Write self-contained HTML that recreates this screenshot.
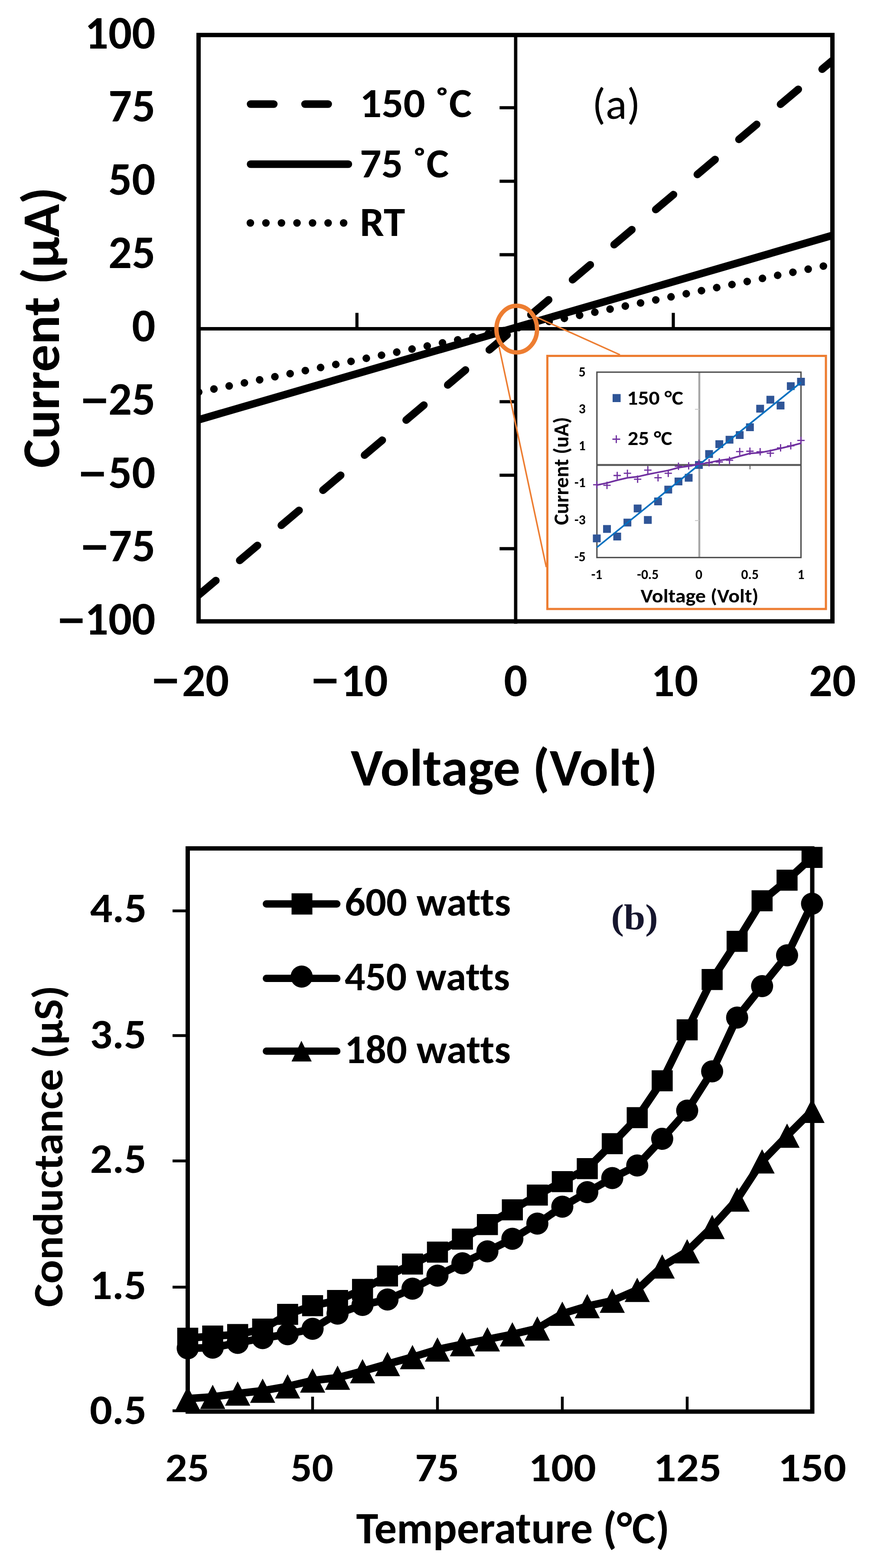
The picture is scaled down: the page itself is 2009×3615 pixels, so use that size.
<!DOCTYPE html>
<html><head><meta charset="utf-8"><title>Figure</title>
<style>
html,body{margin:0;padding:0;background:#fff;}
body{width:2009px;height:3615px;overflow:hidden;}
svg{display:block;}
text{font-variant-ligatures:none;font-feature-settings:"liga" 0,"clig" 0;}
</style></head>
<body>
<svg width="2009" height="3615" viewBox="0 0 2009 3615">
<rect width="2009" height="3615" fill="#fff"/>
<defs><clipPath id="clipA"><rect x="453" y="76" width="1472" height="1362"/></clipPath></defs>
<g clip-path="url(#clipA)" fill="none" stroke="#000" stroke-width="17.5" stroke-linecap="round">
<path d="M457,1372.9 L1921,138.7" stroke-dasharray="53.5 72"/>
<path d="M458,967.8 L1921,542.4" stroke-linecap="butt"/>
<path d="M458.3,904 L1921,609.1" stroke-dasharray="0.01 35.84"/>
</g>
<line x1="1189.4" y1="76" x2="1189.4" y2="1438" stroke="#000" stroke-width="7.7"/>
<line x1="453" y1="758" x2="1925" y2="758" stroke="#000" stroke-width="8"/>
<line x1="1152.3" y1="1264.99" x2="1189.4" y2="1264.99" stroke="#000" stroke-width="7.3"/>
<line x1="1152.3" y1="1095.56" x2="1189.4" y2="1095.56" stroke="#000" stroke-width="7.3"/>
<line x1="1152.3" y1="926.13" x2="1189.4" y2="926.13" stroke="#000" stroke-width="7.3"/>
<line x1="1152.3" y1="587.27" x2="1189.4" y2="587.27" stroke="#000" stroke-width="7.3"/>
<line x1="1152.3" y1="417.84" x2="1189.4" y2="417.84" stroke="#000" stroke-width="7.3"/>
<line x1="1152.3" y1="248.41" x2="1189.4" y2="248.41" stroke="#000" stroke-width="7.3"/>
<line x1="823.3" y1="721.3" x2="823.3" y2="758" stroke="#000" stroke-width="7.2"/>
<line x1="1553" y1="721.3" x2="1553" y2="758" stroke="#000" stroke-width="7.2"/>
<rect x="458" y="80.7" width="1462" height="1351.8" fill="none" stroke="#000" stroke-width="10"/>
<text x="358.5" y="111.5" font-size="107" font-weight="bold" text-anchor="end" font-family="Carlito, Lato, 'Liberation Sans', Arial, sans-serif" fill="#000" textLength="162.7" lengthAdjust="spacingAndGlyphs">100</text>
<text x="358.5" y="280.45" font-size="107" font-weight="bold" text-anchor="end" font-family="Carlito, Lato, 'Liberation Sans', Arial, sans-serif" fill="#000" textLength="108.47" lengthAdjust="spacingAndGlyphs">75</text>
<text x="358.5" y="449.4" font-size="107" font-weight="bold" text-anchor="end" font-family="Carlito, Lato, 'Liberation Sans', Arial, sans-serif" fill="#000" textLength="108.47" lengthAdjust="spacingAndGlyphs">50</text>
<text x="358.5" y="618.35" font-size="107" font-weight="bold" text-anchor="end" font-family="Carlito, Lato, 'Liberation Sans', Arial, sans-serif" fill="#000" textLength="108.47" lengthAdjust="spacingAndGlyphs">25</text>
<text x="358.5" y="787.3" font-size="107" font-weight="bold" text-anchor="end" font-family="Carlito, Lato, 'Liberation Sans', Arial, sans-serif" fill="#000" textLength="54.23" lengthAdjust="spacingAndGlyphs">0</text>
<text x="358.5" y="956.25" font-size="107" font-weight="bold" text-anchor="end" font-family="Carlito, Lato, 'Liberation Sans', Arial, sans-serif" fill="#000" textLength="108.47" lengthAdjust="spacingAndGlyphs">25</text>
<text x="185.18" y="957.75" font-size="107" font-weight="bold" font-family="Carlito, Lato, 'Liberation Sans', Arial, sans-serif" stroke="#000" stroke-width="1" textLength="66.16" lengthAdjust="spacingAndGlyphs">&#8722;</text>
<text x="358.5" y="1125.2" font-size="107" font-weight="bold" text-anchor="end" font-family="Carlito, Lato, 'Liberation Sans', Arial, sans-serif" fill="#000" textLength="108.47" lengthAdjust="spacingAndGlyphs">50</text>
<text x="180.18" y="1126.7" font-size="107" font-weight="bold" font-family="Carlito, Lato, 'Liberation Sans', Arial, sans-serif" stroke="#000" stroke-width="1" textLength="66.16" lengthAdjust="spacingAndGlyphs">&#8722;</text>
<text x="358.5" y="1294.15" font-size="107" font-weight="bold" text-anchor="end" font-family="Carlito, Lato, 'Liberation Sans', Arial, sans-serif" fill="#000" textLength="108.47" lengthAdjust="spacingAndGlyphs">75</text>
<text x="185.18" y="1295.65" font-size="107" font-weight="bold" font-family="Carlito, Lato, 'Liberation Sans', Arial, sans-serif" stroke="#000" stroke-width="1" textLength="66.16" lengthAdjust="spacingAndGlyphs">&#8722;</text>
<text x="358.5" y="1463.1" font-size="107" font-weight="bold" text-anchor="end" font-family="Carlito, Lato, 'Liberation Sans', Arial, sans-serif" fill="#000" textLength="162.7" lengthAdjust="spacingAndGlyphs">100</text>
<text x="131.75" y="1464.6" font-size="107" font-weight="bold" font-family="Carlito, Lato, 'Liberation Sans', Arial, sans-serif" stroke="#000" stroke-width="1" textLength="65.52" lengthAdjust="spacingAndGlyphs">&#8722;</text>
<text x="528.2" y="1604.5" font-size="107" font-weight="bold" text-anchor="end" font-family="Carlito, Lato, 'Liberation Sans', Arial, sans-serif" fill="#000" textLength="108.47" lengthAdjust="spacingAndGlyphs">20</text>
<text x="894.7" y="1604.5" font-size="107" font-weight="bold" text-anchor="end" font-family="Carlito, Lato, 'Liberation Sans', Arial, sans-serif" fill="#000" textLength="108.47" lengthAdjust="spacingAndGlyphs">10</text>
<text x="1189.4" y="1604.5" font-size="107" font-weight="bold" text-anchor="middle" font-family="Carlito, Lato, 'Liberation Sans', Arial, sans-serif" fill="#000" textLength="54.23" lengthAdjust="spacingAndGlyphs">0</text>
<text x="1556" y="1604.5" font-size="107" font-weight="bold" text-anchor="middle" font-family="Carlito, Lato, 'Liberation Sans', Arial, sans-serif" fill="#000" textLength="108.47" lengthAdjust="spacingAndGlyphs">10</text>
<text x="1920" y="1604.5" font-size="107" font-weight="bold" text-anchor="middle" font-family="Carlito, Lato, 'Liberation Sans', Arial, sans-serif" fill="#000" textLength="108.47" lengthAdjust="spacingAndGlyphs">20</text>
<text x="348.68" y="1603.5" font-size="107" font-weight="bold" font-family="Carlito, Lato, 'Liberation Sans', Arial, sans-serif" stroke="#000" stroke-width="1" textLength="66.16" lengthAdjust="spacingAndGlyphs">&#8722;</text>
<text x="716.68" y="1603.5" font-size="107" font-weight="bold" font-family="Carlito, Lato, 'Liberation Sans', Arial, sans-serif" stroke="#000" stroke-width="1" textLength="66.16" lengthAdjust="spacingAndGlyphs">&#8722;</text>
<text x="809" y="1811" font-size="121.5" font-weight="bold" text-anchor="start" font-family="Carlito, Lato, 'Liberation Sans', Arial, sans-serif" fill="#000" textLength="707.43" lengthAdjust="spacingAndGlyphs">Voltage (Volt)</text>
<text transform="translate(136,1079) rotate(-90)" font-size="121.5" font-weight="bold" font-family="Carlito, Lato, 'Liberation Sans', Arial, sans-serif" textLength="647.67" lengthAdjust="spacingAndGlyphs">Current (&#181;A)</text>
<g fill="none" stroke="#000" stroke-width="17.5" stroke-linecap="round">
<path d="M578,240 L803.5,240" stroke-dasharray="53.5 72"/>
<path d="M578,378.5 L803.5,378.5"/>
<path d="M577.5,514 L803.5,514" stroke-dasharray="0.01 35.84"/>
</g>
<text x="830" y="270" font-size="96" font-weight="bold" text-anchor="start" font-family="Carlito, Lato, 'Liberation Sans', Arial, sans-serif" fill="#000" textLength="258.2" lengthAdjust="spacingAndGlyphs">150 &#730;C</text>
<text x="830" y="408.5" font-size="96" font-weight="bold" text-anchor="start" font-family="Carlito, Lato, 'Liberation Sans', Arial, sans-serif" fill="#000" textLength="205.39" lengthAdjust="spacingAndGlyphs">75 &#730;C</text>
<text x="830" y="544" font-size="96" font-weight="bold" text-anchor="start" font-family="Carlito, Lato, 'Liberation Sans', Arial, sans-serif" fill="#000" textLength="104.39" lengthAdjust="spacingAndGlyphs">RT</text>
<text x="1365.7" y="273.5" font-size="100" font-weight="normal" text-anchor="start" font-family="Carlito, Lato, 'Liberation Sans', Arial, sans-serif" fill="#000" textLength="111.32" lengthAdjust="spacingAndGlyphs">(a)</text>
<ellipse cx="1191.9" cy="758.75" rx="46.9" ry="53.75" fill="none" stroke="#ED7D31" stroke-width="10"/>
<line x1="1237.5" y1="731.25" x2="1430" y2="818" stroke="#ED7D31" stroke-width="3.5"/>
<line x1="1151.25" y1="800" x2="1260" y2="1307.5" stroke="#ED7D31" stroke-width="3.5"/>
<rect x="1262.5" y="820.5" width="642.5" height="583.5" fill="#fff" stroke="#ED7D31" stroke-width="5"/>
<line x1="1613" y1="858" x2="1613" y2="1285.5" stroke="#A6A6A6" stroke-width="4.5"/>
<line x1="1376.5" y1="1071.9" x2="1847.5" y2="1071.9" stroke="#595959" stroke-width="4.5"/>
<line x1="1729.9" y1="1071.9" x2="1729.9" y2="1082" stroke="#595959" stroke-width="2"/>
<line x1="1494.2" y1="1071.9" x2="1494.2" y2="1082" stroke="#595959" stroke-width="2"/>
<line x1="1603" y1="943.65" x2="1613" y2="943.65" stroke="#C8C8C8" stroke-width="2"/>
<line x1="1603" y1="1200.15" x2="1613" y2="1200.15" stroke="#C8C8C8" stroke-width="2"/>
<rect x="1376.8" y="858" width="470.7" height="427.4" fill="none" stroke="#505050" stroke-width="3.2"/>
<path d="M1367.5,1232.19h18v18h-18zM1391.05,1210.39h18v18h-18zM1414.6,1227.91h18v18h-18zM1438.15,1195.85h18v18h-18zM1461.7,1163.36h18v18h-18zM1485.25,1189.87h18v18h-18zM1508.8,1147.12h18v18h-18zM1532.35,1119.76h18v18h-18zM1555.9,1100.95h18v18h-18zM1579.45,1092.4h18v18h-18zM1603,1062.9h18v18h-18zM1626.55,1037.68h18v18h-18zM1650.1,1015.02h18v18h-18zM1673.65,1004.76h18v18h-18zM1697.2,994.07h18v18h-18zM1720.75,976.12h18v18h-18zM1744.3,933.37h18v18h-18zM1767.85,912.42h18v18h-18zM1791.4,926.1h18v18h-18zM1814.95,881.21h18v18h-18zM1838.5,870.95h18v18h-18z" fill="#2F5597"/>
<path d="M1368,1117.64h17M1376.5,1109.14v17M1391.55,1118.93h17M1400.05,1110.43v17M1415.1,1096.27h17M1423.6,1087.77v17M1438.65,1091.14h17M1447.15,1082.64v17M1462.2,1104.82h17M1470.7,1096.32v17M1485.75,1083.87h17M1494.25,1075.37v17M1509.3,1101.4h17M1517.8,1092.9v17M1532.85,1091.14h17M1541.35,1082.64v17M1556.4,1074.89h17M1564.9,1066.39v17M1579.95,1074.04h17M1588.45,1065.54v17M1603.5,1068.05h17M1612,1059.55v17M1627.05,1066.77h17M1635.55,1058.27v17M1650.6,1065.06h17M1659.1,1056.56v17M1674.15,1061.21h17M1682.65,1052.71v17M1697.7,1041.12h17M1706.2,1032.62v17M1721.25,1040.27h17M1729.75,1031.77v17M1744.8,1041.55h17M1753.3,1033.05v17M1768.35,1044.97h17M1776.85,1036.47v17M1791.9,1032.57h17M1800.4,1024.07v17M1815.45,1027.87h17M1823.95,1019.37v17M1839,1015.47h17M1847.5,1006.97v17" stroke="#7030A0" stroke-width="2.8" fill="none"/>
<line x1="1376.5" y1="1262.14" x2="1847.5" y2="881.66" stroke="#0070C0" stroke-width="3.8"/>
<polyline points="1376.5,1118.3 1400.05,1113.5 1423.6,1107.2 1447.15,1101.7 1470.7,1099 1494.25,1093.6 1517.8,1089 1541.35,1084.5 1564.9,1078.1 1588.45,1074.5 1612,1070.5 1635.55,1066.5 1659.1,1061.7 1682.65,1058.1 1706.2,1051.7 1729.75,1045.4 1753.3,1043.6 1776.85,1039 1800.4,1033.6 1823.95,1028.1 1847.5,1021.8" fill="none" stroke="#7030A0" stroke-width="3.8" stroke-linejoin="round"/>
<text x="1350.6" y="867.5" font-size="31.5" font-weight="bold" text-anchor="end" font-family="Carlito, Lato, 'Liberation Sans', Arial, sans-serif" fill="#000" textLength="15.97" lengthAdjust="spacingAndGlyphs">5</text>
<text x="1350.6" y="952.75" font-size="31.5" font-weight="bold" text-anchor="end" font-family="Carlito, Lato, 'Liberation Sans', Arial, sans-serif" fill="#000" textLength="15.97" lengthAdjust="spacingAndGlyphs">3</text>
<text x="1350.6" y="1038" font-size="31.5" font-weight="bold" text-anchor="end" font-family="Carlito, Lato, 'Liberation Sans', Arial, sans-serif" fill="#000" textLength="15.97" lengthAdjust="spacingAndGlyphs">1</text>
<text x="1350.6" y="1123.25" font-size="31.5" font-weight="bold" text-anchor="end" font-family="Carlito, Lato, 'Liberation Sans', Arial, sans-serif" fill="#000" textLength="25.61" lengthAdjust="spacingAndGlyphs">-1</text>
<text x="1350.6" y="1208.5" font-size="31.5" font-weight="bold" text-anchor="end" font-family="Carlito, Lato, 'Liberation Sans', Arial, sans-serif" fill="#000" textLength="25.61" lengthAdjust="spacingAndGlyphs">-3</text>
<text x="1350.6" y="1293.75" font-size="31.5" font-weight="bold" text-anchor="end" font-family="Carlito, Lato, 'Liberation Sans', Arial, sans-serif" fill="#000" textLength="25.61" lengthAdjust="spacingAndGlyphs">-5</text>
<text x="1376.5" y="1334.5" font-size="31.5" font-weight="bold" text-anchor="middle" font-family="Carlito, Lato, 'Liberation Sans', Arial, sans-serif" fill="#000" textLength="25.61" lengthAdjust="spacingAndGlyphs">-1</text>
<text x="1494.25" y="1334.5" font-size="31.5" font-weight="bold" text-anchor="middle" font-family="Carlito, Lato, 'Liberation Sans', Arial, sans-serif" fill="#000" textLength="50" lengthAdjust="spacingAndGlyphs">-0.5</text>
<text x="1612" y="1334.5" font-size="31.5" font-weight="bold" text-anchor="middle" font-family="Carlito, Lato, 'Liberation Sans', Arial, sans-serif" fill="#000" textLength="15.97" lengthAdjust="spacingAndGlyphs">0</text>
<text x="1729.75" y="1334.5" font-size="31.5" font-weight="bold" text-anchor="middle" font-family="Carlito, Lato, 'Liberation Sans', Arial, sans-serif" fill="#000" textLength="40.36" lengthAdjust="spacingAndGlyphs">0.5</text>
<text x="1847.5" y="1334.5" font-size="31.5" font-weight="bold" text-anchor="middle" font-family="Carlito, Lato, 'Liberation Sans', Arial, sans-serif" fill="#000" textLength="15.97" lengthAdjust="spacingAndGlyphs">1</text>
<text x="1477.5" y="1389" font-size="44" font-weight="bold" text-anchor="start" font-family="Carlito, Lato, 'Liberation Sans', Arial, sans-serif" fill="#000" textLength="272.12" lengthAdjust="spacingAndGlyphs">Voltage (Volt)</text>
<text transform="translate(1310.6,1210.6) rotate(-90)" font-size="48" font-weight="bold" font-family="Carlito, Lato, 'Liberation Sans', Arial, sans-serif" textLength="249.22" lengthAdjust="spacingAndGlyphs">Current (uA)</text>
<rect x="1413" y="908.5" width="18.5" height="18.5" fill="#2F5597"/>
<path d="M1412.5,1012.5h18M1421.5,1003.5v18" stroke="#7030A0" stroke-width="2.8"/>
<text x="1446.3" y="932.8" font-size="46" font-weight="bold" text-anchor="start" font-family="Carlito, Lato, 'Liberation Sans', Arial, sans-serif" fill="#000" textLength="129.78" lengthAdjust="spacingAndGlyphs">150 &#176;C</text>
<text x="1447.8" y="1026.4" font-size="46" font-weight="bold" text-anchor="start" font-family="Carlito, Lato, 'Liberation Sans', Arial, sans-serif" fill="#000" textLength="102.75" lengthAdjust="spacingAndGlyphs">25 &#176;C</text>
<line x1="398" y1="2099.9" x2="433" y2="2099.9" stroke="#000" stroke-width="6.5"/>
<line x1="398" y1="2387.4" x2="433" y2="2387.4" stroke="#000" stroke-width="6.5"/>
<line x1="398" y1="2676.6" x2="433" y2="2676.6" stroke="#000" stroke-width="6.5"/>
<line x1="398" y1="2967.5" x2="433" y2="2967.5" stroke="#000" stroke-width="6.5"/>
<line x1="398" y1="3252.5" x2="433" y2="3252.5" stroke="#000" stroke-width="6.5"/>
<line x1="721" y1="3220" x2="721" y2="3254.4" stroke="#000" stroke-width="6.5"/>
<line x1="1009" y1="3220" x2="1009" y2="3254.4" stroke="#000" stroke-width="6.5"/>
<line x1="1297" y1="3220" x2="1297" y2="3254.4" stroke="#000" stroke-width="6.5"/>
<line x1="1585" y1="3220" x2="1585" y2="3254.4" stroke="#000" stroke-width="6.5"/>
<rect x="433" y="1956" width="1440.5" height="1298.4" fill="none" stroke="#000" stroke-width="10"/>
<polyline points="433,3085.25 490.6,3080.25 548.2,3076.75 605.8,3064.25 663.4,3030.25 721,3010.25 778.6,2998.25 836.2,2972.75 893.8,2941.75 951.4,2914.25 1009,2886.75 1066.6,2856.75 1124.2,2823.25 1181.8,2789.25 1239.4,2755.25 1297,2724.25 1354.6,2694.25 1412.2,2636.75 1469.8,2576.75 1527.4,2491.75 1585,2374.25 1642.6,2258.25 1700.2,2170.25 1757.8,2076.75 1815.4,2029.25 1873,1976.75" fill="none" stroke="#000" stroke-width="17.5" stroke-linejoin="round" stroke-linecap="round"/>
<path d="M408.75,3061h48.5v48.5h-48.5zM466.35,3056h48.5v48.5h-48.5zM523.95,3052.5h48.5v48.5h-48.5zM581.55,3040h48.5v48.5h-48.5zM639.15,3006h48.5v48.5h-48.5zM696.75,2986h48.5v48.5h-48.5zM754.35,2974h48.5v48.5h-48.5zM811.95,2948.5h48.5v48.5h-48.5zM869.55,2917.5h48.5v48.5h-48.5zM927.15,2890h48.5v48.5h-48.5zM984.75,2862.5h48.5v48.5h-48.5zM1042.35,2832.5h48.5v48.5h-48.5zM1099.95,2799h48.5v48.5h-48.5zM1157.55,2765h48.5v48.5h-48.5zM1215.15,2731h48.5v48.5h-48.5zM1272.75,2700h48.5v48.5h-48.5zM1330.35,2670h48.5v48.5h-48.5zM1387.95,2612.5h48.5v48.5h-48.5zM1445.55,2552.5h48.5v48.5h-48.5zM1503.15,2467.5h48.5v48.5h-48.5zM1560.75,2350h48.5v48.5h-48.5zM1618.35,2234h48.5v48.5h-48.5zM1675.95,2146h48.5v48.5h-48.5zM1733.55,2052.5h48.5v48.5h-48.5zM1791.15,2005h48.5v48.5h-48.5zM1848.75,1952.5h48.5v48.5h-48.5z" fill="#000"/>
<polyline points="433,3108.5 490.6,3107 548.2,3096 605.8,3085 663.4,3076 721,3063.5 778.6,3028.5 836.2,3008.5 893.8,2996 951.4,2971 1009,2941 1066.6,2912.5 1124.2,2885 1181.8,2856 1239.4,2821 1297,2782 1354.6,2748.5 1412.2,2716 1469.8,2687 1527.4,2625.5 1585,2560.5 1642.6,2470 1700.2,2346 1757.8,2273.5 1815.4,2202.5 1873,2083.5" fill="none" stroke="#000" stroke-width="17.5" stroke-linejoin="round" stroke-linecap="round"/>
<circle cx="433" cy="3108.5" r="25.5"/>
<circle cx="490.6" cy="3107" r="25.5"/>
<circle cx="548.2" cy="3096" r="25.5"/>
<circle cx="605.8" cy="3085" r="25.5"/>
<circle cx="663.4" cy="3076" r="25.5"/>
<circle cx="721" cy="3063.5" r="25.5"/>
<circle cx="778.6" cy="3028.5" r="25.5"/>
<circle cx="836.2" cy="3008.5" r="25.5"/>
<circle cx="893.8" cy="2996" r="25.5"/>
<circle cx="951.4" cy="2971" r="25.5"/>
<circle cx="1009" cy="2941" r="25.5"/>
<circle cx="1066.6" cy="2912.5" r="25.5"/>
<circle cx="1124.2" cy="2885" r="25.5"/>
<circle cx="1181.8" cy="2856" r="25.5"/>
<circle cx="1239.4" cy="2821" r="25.5"/>
<circle cx="1297" cy="2782" r="25.5"/>
<circle cx="1354.6" cy="2748.5" r="25.5"/>
<circle cx="1412.2" cy="2716" r="25.5"/>
<circle cx="1469.8" cy="2687" r="25.5"/>
<circle cx="1527.4" cy="2625.5" r="25.5"/>
<circle cx="1585" cy="2560.5" r="25.5"/>
<circle cx="1642.6" cy="2470" r="25.5"/>
<circle cx="1700.2" cy="2346" r="25.5"/>
<circle cx="1757.8" cy="2273.5" r="25.5"/>
<circle cx="1815.4" cy="2202.5" r="25.5"/>
<circle cx="1873" cy="2083.5" r="25.5"/>
<polyline points="433,3224.5 490.6,3220.5 548.2,3212.75 605.8,3206.25 663.4,3196.25 721,3182.75 778.6,3176.25 836.2,3161.25 893.8,3144.75 951.4,3128.75 1009,3111.25 1066.6,3099 1124.2,3087.75 1181.8,3076.25 1239.4,3062.75 1297,3028.75 1354.6,3011.25 1412.2,2998.75 1469.8,2973.75 1527.4,2919.75 1585,2884.75 1642.6,2828.7 1700.2,2765.4 1757.8,2677.4 1815.4,2618.3 1873,2561" fill="none" stroke="#000" stroke-width="17.5" stroke-linejoin="round" stroke-linecap="round"/>
<path d="M433,3196.5L462,3252.5L404,3252.5zM490.6,3192.5L519.6,3248.5L461.6,3248.5zM548.2,3184.75L577.2,3240.75L519.2,3240.75zM605.8,3178.25L634.8,3234.25L576.8,3234.25zM663.4,3168.25L692.4,3224.25L634.4,3224.25zM721,3154.75L750,3210.75L692,3210.75zM778.6,3148.25L807.6,3204.25L749.6,3204.25zM836.2,3133.25L865.2,3189.25L807.2,3189.25zM893.8,3116.75L922.8,3172.75L864.8,3172.75zM951.4,3100.75L980.4,3156.75L922.4,3156.75zM1009,3083.25L1038,3139.25L980,3139.25zM1066.6,3071L1095.6,3127L1037.6,3127zM1124.2,3059.75L1153.2,3115.75L1095.2,3115.75zM1181.8,3048.25L1210.8,3104.25L1152.8,3104.25zM1239.4,3034.75L1268.4,3090.75L1210.4,3090.75zM1297,3000.75L1326,3056.75L1268,3056.75zM1354.6,2983.25L1383.6,3039.25L1325.6,3039.25zM1412.2,2970.75L1441.2,3026.75L1383.2,3026.75zM1469.8,2945.75L1498.8,3001.75L1440.8,3001.75zM1527.4,2891.75L1556.4,2947.75L1498.4,2947.75zM1585,2856.75L1614,2912.75L1556,2912.75zM1642.6,2800.7L1671.6,2856.7L1613.6,2856.7zM1700.2,2737.4L1729.2,2793.4L1671.2,2793.4zM1757.8,2649.4L1786.8,2705.4L1728.8,2705.4zM1815.4,2590.3L1844.4,2646.3L1786.4,2646.3zM1873,2533L1902,2589L1844,2589z" fill="#000"/>
<text x="207.65" y="2126.4" font-size="98" font-weight="bold" font-family="Carlito, Lato, 'Liberation Sans', Arial, sans-serif" textLength="130.73" lengthAdjust="spacingAndGlyphs">4.5</text>
<text x="207.43" y="2417" font-size="98" font-weight="bold" font-family="Carlito, Lato, 'Liberation Sans', Arial, sans-serif" textLength="130.24" lengthAdjust="spacingAndGlyphs">3.5</text>
<text x="207.78" y="2704.2" font-size="98" font-weight="bold" font-family="Carlito, Lato, 'Liberation Sans', Arial, sans-serif" textLength="129.87" lengthAdjust="spacingAndGlyphs">2.5</text>
<text x="207.18" y="2995.3" font-size="98" font-weight="bold" font-family="Carlito, Lato, 'Liberation Sans', Arial, sans-serif" textLength="130.49" lengthAdjust="spacingAndGlyphs">1.5</text>
<text x="206.9" y="3282.5" font-size="98" font-weight="bold" font-family="Carlito, Lato, 'Liberation Sans', Arial, sans-serif" textLength="131.31" lengthAdjust="spacingAndGlyphs">0.5</text>
<text x="381.34" y="3415" font-size="93" font-weight="bold" font-family="Carlito, Lato, 'Liberation Sans', Arial, sans-serif" textLength="101.24" lengthAdjust="spacingAndGlyphs">25</text>
<text x="670.19" y="3415" font-size="93" font-weight="bold" font-family="Carlito, Lato, 'Liberation Sans', Arial, sans-serif" textLength="98.7" lengthAdjust="spacingAndGlyphs">50</text>
<text x="957.37" y="3415" font-size="93" font-weight="bold" font-family="Carlito, Lato, 'Liberation Sans', Arial, sans-serif" textLength="102.04" lengthAdjust="spacingAndGlyphs">75</text>
<text x="1219.36" y="3415" font-size="93" font-weight="bold" font-family="Carlito, Lato, 'Liberation Sans', Arial, sans-serif" textLength="155.54" lengthAdjust="spacingAndGlyphs">100</text>
<text x="1507.29" y="3415" font-size="93" font-weight="bold" font-family="Carlito, Lato, 'Liberation Sans', Arial, sans-serif" textLength="157.16" lengthAdjust="spacingAndGlyphs">125</text>
<text x="1794.69" y="3415" font-size="93" font-weight="bold" font-family="Carlito, Lato, 'Liberation Sans', Arial, sans-serif" textLength="157.13" lengthAdjust="spacingAndGlyphs">150</text>
<text x="821.4" y="3558.2" font-size="102.4" font-weight="bold" text-anchor="start" font-family="Carlito, Lato, 'Liberation Sans', Arial, sans-serif" fill="#000" textLength="722.87" lengthAdjust="spacingAndGlyphs">Temperature (&#176;C)</text>
<text transform="translate(143.8,3013.5) rotate(-90)" font-size="98" font-weight="bold" font-family="Carlito, Lato, 'Liberation Sans', Arial, sans-serif" textLength="741.87" lengthAdjust="spacingAndGlyphs">Conductance (&#181;S)</text>
<g fill="none" stroke="#000" stroke-width="16.8" stroke-linecap="round">
<path d="M614.4,2084 L776.9,2084"/>
<path d="M614.4,2255.7 L776.9,2255.7"/>
<path d="M614.4,2423.4 L776.9,2423.4"/>
</g>
<rect x="672.5" y="2059.5" width="48" height="49" fill="#000"/>
<circle cx="695.8" cy="2251.5" r="25.5" fill="#000"/>
<path d="M695.2,2399.4 L719,2447.2 L672.4,2447.2z" fill="#000"/>
<text x="795" y="2111.2" font-size="93.5" font-weight="bold" text-anchor="start" font-family="Carlito, Lato, 'Liberation Sans', Arial, sans-serif" fill="#000" textLength="383.25" lengthAdjust="spacingAndGlyphs">600 watts</text>
<text x="795" y="2283" font-size="93.5" font-weight="bold" text-anchor="start" font-family="Carlito, Lato, 'Liberation Sans', Arial, sans-serif" fill="#000" textLength="381.21" lengthAdjust="spacingAndGlyphs">450 watts</text>
<text x="795" y="2451.4" font-size="93.5" font-weight="bold" text-anchor="start" font-family="Carlito, Lato, 'Liberation Sans', Arial, sans-serif" fill="#000" textLength="383.1" lengthAdjust="spacingAndGlyphs">180 watts</text>
<text x="1409.5" y="2142.2" font-size="83.5" font-weight="bold" text-anchor="start" font-family="'Liberation Serif', 'Times New Roman', serif" fill="#16162e" textLength="108.29" lengthAdjust="spacingAndGlyphs">(b)</text>
</svg>
</body></html>
